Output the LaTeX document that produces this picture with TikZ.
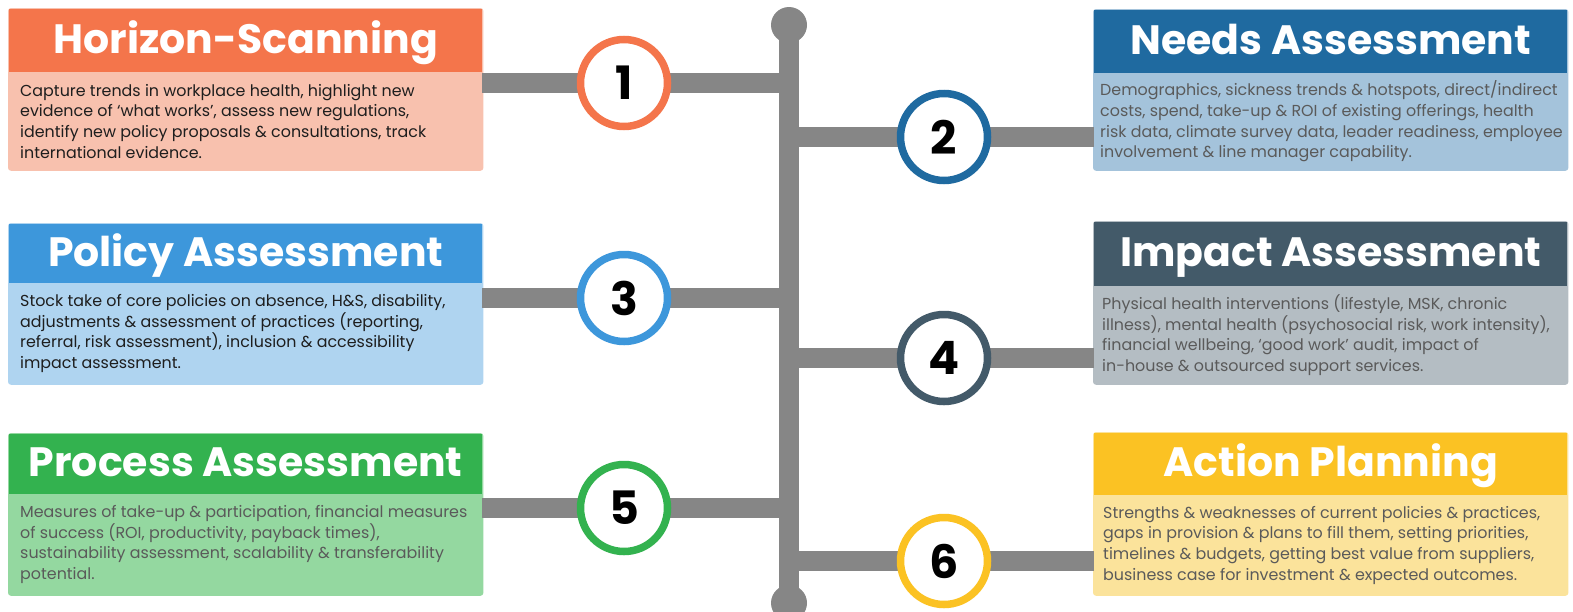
\documentclass[tikz,border=0pt]{standalone}
\usepackage{fontspec}
\setmainfont{Poppins}
\usetikzlibrary{backgrounds,fit}

% palette: header / body colour per stage
\definecolor{hsH}{HTML}{F4754B}\definecolor{hsB}{HTML}{F8C1AE}
\definecolor{naH}{HTML}{1F6AA0}\definecolor{naB}{HTML}{A4C3DB}
\definecolor{paH}{HTML}{3D97DB}\definecolor{paB}{HTML}{AFD4F0}
\definecolor{iaH}{HTML}{435A69}\definecolor{iaB}{HTML}{B4BDC3}
\definecolor{prH}{HTML}{33B24F}\definecolor{prB}{HTML}{94D8A0}
\definecolor{apH}{HTML}{FBC223}\definecolor{apB}{HTML}{FBE39B}
\definecolor{railgray}{HTML}{868686}
\definecolor{darktext}{HTML}{1E1E1E}
\definecolor{softtext}{HTML}{5A5A5A}

\tikzset{
  hdr/.style={rectangle, anchor=north west, inner sep=0pt, minimum width=473pt,
    text=white, font=\fontsize{41}{41}\selectfont\bfseries,
    text height=29pt, text depth=4pt},
  bdy/.style={rectangle, anchor=north west, inner sep=0pt, minimum width=473pt},
  desc/.style={anchor=west, align=left, inner sep=0pt,
    font=\fontsize{15.9}{20.7}\selectfont},
  frame/.style={inner sep=1pt, rounded corners=3pt},
  bar/.style={draw=railgray, line width=20pt},
  ring/.style={circle, fill=white, line width=7.5pt, minimum size=87pt,
    inner sep=0pt, font=\fontsize{46}{46}\selectfont\bfseries, text=black},
  dot/.style={circle, fill=railgray, minimum size=36pt, inner sep=0pt},
}

\begin{document}
\begin{tikzpicture}[x=1pt,y=-1pt]
\useasboundingbox (0,0) rectangle (1573,611);

% ---- stage boxes: left column ----
\node[hdr, fill=hsH, minimum height=63pt] (h1) at (9,9) {Horizon-Scanning};
\node[bdy, fill=hsB, minimum height=97pt] (b1) at (h1.south west) {};
\node[desc, text=darktext] (t1) at ([xshift=11pt]b1.west) {Capture trends in workplace health, highlight new\\evidence of ‘what works’, assess new regulations,\\identify new policy proposals \& consultations, track\\international evidence.};

\node[hdr, fill=paH, minimum height=59pt] (h3) at (9,224) {Policy Assessment};
\node[bdy, fill=paB, minimum height=100pt] (b3) at (h3.south west) {};
\node[desc, text=darktext] (t3) at ([xshift=11pt]b3.west) {Stock take of core policies on absence, H\&S, disability,\\adjustments \& assessment of practices (reporting,\\referral, risk assessment), inclusion \& accessibility\\impact assessment.};

\node[hdr, fill=prH, minimum height=60pt] (h5) at (9,434) {Process Assessment};
\node[bdy, fill=prB, minimum height=100pt] (b5) at (h5.south west) {};
\node[desc, text=softtext] (t5) at ([xshift=11pt]b5.west) {Measures of take-up \& participation, financial measures\\of success (ROI, productivity, payback times),\\sustainability assessment, scalability \& transferability\\potential.};

% ---- stage boxes: right column ----
\node[hdr, fill=naH, minimum height=63pt] (h2) at (1094,10) {Needs Assessment};
\node[bdy, fill=naB, minimum height=96pt] (b2) at (h2.south west) {};
\node[desc, text=softtext] (t2) at ([xshift=6pt]b2.west) {Demographics, sickness trends \& hotspots, direct/indirect\\costs, spend, take-up \& ROI of existing offerings, health\\risk data, climate survey data, leader readiness, employee\\involvement \& line manager capability.};

\node[hdr, fill=iaH, minimum height=64pt] (h4) at (1094,222) {Impact Assessment};
\node[bdy, fill=iaB, minimum height=97pt] (b4) at (h4.south west) {};
\node[desc, text=softtext] (t4) at ([xshift=8pt]b4.west) {Physical health interventions (lifestyle, MSK, chronic\\illness), mental health (psychosocial risk, work intensity),\\financial wellbeing, ‘good work’ audit, impact of\\in-house \& outsourced support services.};

\node[hdr, fill=apH, minimum height=62pt] (h6) at (1094,433) {Action Planning};
\node[bdy, fill=apB, minimum height=99pt] (b6) at (h6.south west) {};
\node[desc, text=softtext] (t6) at ([xshift=9pt]b6.west) {Strengths \& weaknesses of current policies \& practices,\\gaps in provision \& plans to fill them, setting priorities,\\timelines \& budgets, getting best value from suppliers,\\business case for investment \& expected outcomes.};

% thin light frame behind each box
\begin{scope}[on background layer]
  \node[frame, fill=hsB, fit=(h1)(b1)] (f1) {};
  \node[frame, fill=naB, fit=(h2)(b2)] (f2) {};
  \node[frame, fill=paB, fit=(h3)(b3)] (f3) {};
  \node[frame, fill=iaB, fit=(h4)(b4)] (f4) {};
  \node[frame, fill=prB, fit=(h5)(b5)] (f5) {};
  \node[frame, fill=apB, fit=(h6)(b6)] (f6) {};
\end{scope}

% ---- central rail ----
\coordinate (railtop) at (789,25);
\coordinate (railbot) at (789,603);
\draw[bar] (railtop) -- (railbot);
\node[dot] (dtop) at (railtop) {};
\node[dot] (dbot) at (railbot) {};

% branch points on the rail
\coordinate (s1) at (789,83);
\coordinate (s2) at (789,137);
\coordinate (s3) at (789,298);
\coordinate (s4) at (789,358);
\coordinate (s5) at (789,508);
\coordinate (s6) at (789,561);

% branches
\draw[bar] (b1.east |- s1) -- (s1);
\draw[bar] (s2) -- (b2.west |- s2);
\draw[bar] (b3.east |- s3) -- (s3);
\draw[bar] (s4) -- (b4.west |- s4);
\draw[bar] (b5.east |- s5) -- (s5);
\draw[bar] (s6) -- (b6.west |- s6);

% numbered stage markers
\node[ring, draw=hsH] (n1) at (624,83) {1};
\node[ring, draw=naH] (n2) at (944,137) {2};
\node[ring, draw=paH] (n3) at (624,298) {3};
\node[ring, draw=iaH] (n4) at (944,358) {4};
\node[ring, draw=prH] (n5) at (624,508) {5};
\node[ring, draw=apH] (n6) at (944,561) {6};
\end{tikzpicture}
\end{document}
